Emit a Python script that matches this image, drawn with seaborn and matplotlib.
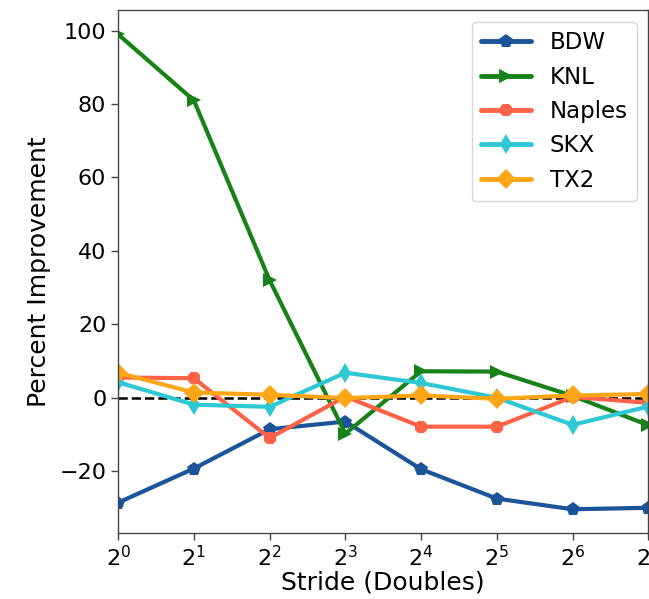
import numpy as np
import pandas as pd
import matplotlib
matplotlib.use("Agg")
import matplotlib.pyplot as plt
import seaborn as sns

strides = [1, 2, 4, 8, 16, 32, 64, 128]
bdw = [-28.6, -19.3, -8.6, -6.5, -19.5, -27.5, -30.4, -30.0]
knl = [99.0, 81.0, 32.0, -9.8, 7.2, 7.1, 0.5, -7.5]
naples = [5.5, 5.3, -11.0, 0.3, -7.9, -7.9, 0.2, -1.4]
skx = [4.2, -1.9, -2.5, 6.8, 4.0, 0.0, -7.4, -2.4]
tx2 = [6.8, 1.4, 0.8, -0.1, 0.6, -0.3, 0.6, 1.0]

names = ["BDW", "KNL", "Naples", "SKX", "TX2"]
series = [bdw, knl, naples, skx, tx2]
colors = {"BDW": "#1b5499", "KNL": "#178217", "Naples": "#ff6347",
          "SKX": "#2ec8d4", "TX2": "#ffa518"}
markers = {"BDW": "p", "KNL": ">", "Naples": "8", "SKX": "d", "TX2": "D"}

rows = []
for n, vals in zip(names, series):
    for s, v in zip(strides, vals):
        rows.append({"Stride": s, "Value": v, "Arch": n})
df = pd.DataFrame(rows)

sns.set_theme(style="ticks")
plt.rcParams['font.family'] = ['DejaVu Sans']
plt.rcParams['text.color'] = 'black'
plt.rcParams['axes.labelcolor'] = 'black'
plt.rcParams['xtick.color'] = 'black'
plt.rcParams['ytick.color'] = 'black'

fig = plt.figure(figsize=(6.49, 5.99), dpi=100)
ax = fig.add_axes([0.182, 0.110, 0.817, 0.8725])

sns.lineplot(data=df, x="Stride", y="Value", hue="Arch", style="Arch",
             hue_order=names, style_order=names, palette=colors,
             markers=markers, dashes=False, linewidth=3, markersize=10,
             markeredgewidth=0, ax=ax)

ax.axhline(0, color="black", linestyle="--", linewidth=1.8, zorder=1.5)

ax.set_xscale("log", base=2)
ax.set_xlim(1, 128)
ax.set_xticks(strides)
ax.set_ylim(-36.9, 105.5)
ax.set_yticks([-20, 0, 20, 40, 60, 80, 100])
ax.tick_params(axis="both", labelsize=16, length=5, width=1, color="#444444")
for sp in ax.spines.values():
    sp.set_color("#444444")
    sp.set_linewidth(1)
ax.set_xlabel("Stride (Doubles)", fontsize=18, labelpad=0.5)
ax.set_ylabel("Percent Improvement", fontsize=18, labelpad=6)

leg = ax.legend(loc="upper right", fontsize=16.5, frameon=True, fancybox=True,
                handlelength=2.2)
for line in leg.get_lines():
    line.set_linewidth(3.5)
    line.set_markersize(10)
for t in leg.get_texts():
    t.set_color("black")

fig.savefig("out.png", dpi=100)
